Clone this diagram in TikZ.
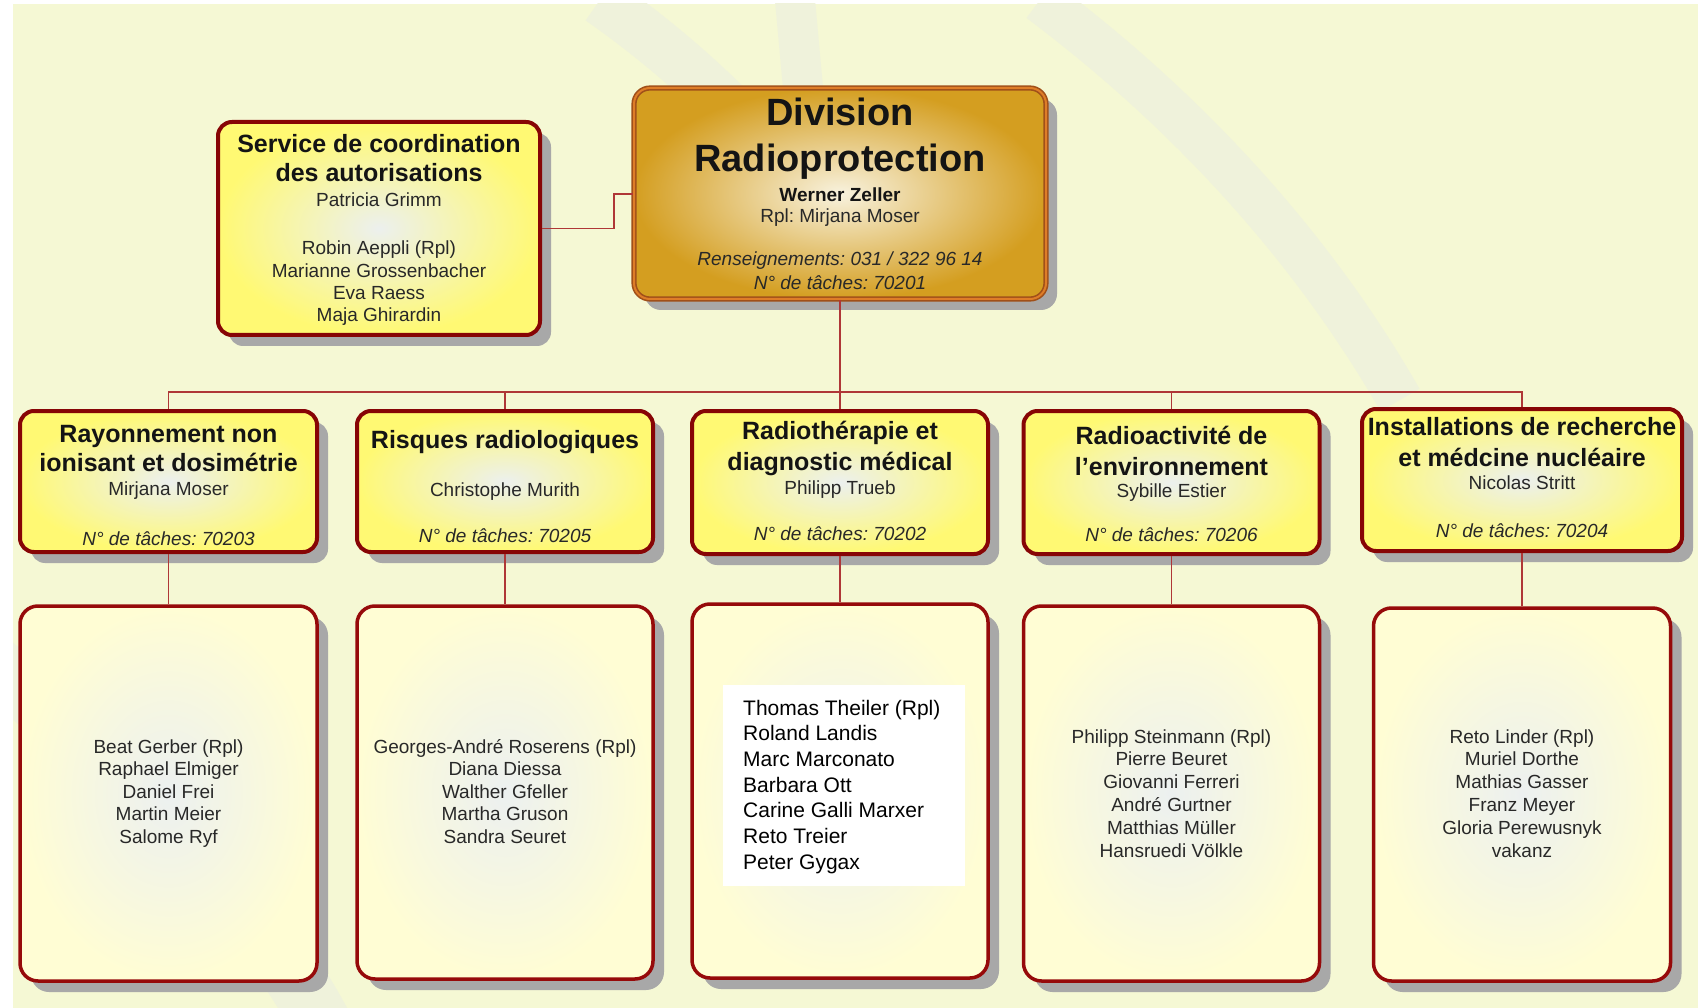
\documentclass[tikz,border=0pt]{standalone}
\usepackage{fontspec}
\setmainfont{Liberation Sans}
\usetikzlibrary{shadows}
\frenchspacing
\definecolor{bg}{RGB}{245,248,212}
\definecolor{swoosh}{RGB}{239,242,219}
\definecolor{conn}{RGB}{175,55,55}
\definecolor{bord}{RGB}{135,5,5}
\definecolor{lbord}{RGB}{150,10,10}
\definecolor{shad}{RGB}{168,168,168}
\definecolor{ylw}{RGB}{255,249,115}
\definecolor{ylwc}{RGB}{236,240,238}
\definecolor{pale}{RGB}{255,253,212}
\definecolor{palec}{RGB}{236,240,240}
\definecolor{gold}{RGB}{212,158,32}
\definecolor{goldc}{RGB}{248,242,222}
\definecolor{goldb}{RGB}{160,80,25}
\definecolor{goldm}{RGB}{222,125,40}
\definecolor{txt}{RGB}{20,20,20}
\definecolor{ntxt}{RGB}{40,40,40}
\begin{document}
\begin{tikzpicture}[x=1pt,y=-1pt,
  shadowed/.style={drop shadow={shadow xshift=11pt,shadow yshift=-11pt,fill=shad,opacity=1}},
  midbox/.style={rectangle,inner sep=0pt,rounded corners=14pt,line width=4pt,draw=bord,
     inner color=ylwc,outer color=ylw,shadowed},
  lowbox/.style={rectangle,inner sep=0pt,rounded corners=18pt,line width=3.5pt,draw=lbord,
     inner color=palec,outer color=pale,shadowed},
  topbox/.style={rectangle,inner sep=0pt,rounded corners=16pt,draw=goldb,line width=1.6pt,
     double=goldm,double distance=2pt,inner color=goldc,outer color=gold,shadowed},
  connline/.style={draw=conn,line width=1.6pt},
  ttl/.style={font=\fontsize{25}{30}\selectfont\bfseries,text=txt,inner sep=0pt,anchor=base},
  big/.style={font=\fontsize{38}{44}\selectfont\bfseries,text=txt,inner sep=0pt,anchor=base},
  bnm/.style={font=\fontsize{19}{22}\selectfont\bfseries,text=txt,inner sep=0pt,anchor=base},
  nm/.style={font=\fontsize{19}{22}\selectfont,text=ntxt,inner sep=0pt,anchor=base},
  itl/.style={font=\fontsize{19}{22}\selectfont\itshape,text=ntxt,inner sep=0pt,anchor=base},
  blk/.style={font=\fontsize{21}{25}\selectfont,text=black,inner sep=0pt,anchor=base west}
]
\useasboundingbox (0,0) rectangle (1698,1008);
\fill[white] (0,0) rectangle (1698,1008);
\fill[bg] (13,4) rectangle (1698,1008);
\begin{scope}
\clip (13,4) rectangle (1698,1008);
\draw[swoosh,line width=50pt] (600,0) .. controls (700,70) and (790,160) .. (870,280);
\draw[swoosh,line width=40pt] (795,0) -- (805,110);
\draw[swoosh,line width=45pt] (1040,0) .. controls (1200,120) and (1320,260) .. (1400,400);
\draw[swoosh,line width=60pt] (-40,640) .. controls (120,760) and (260,900) .. (330,1040);
\end{scope}

% boxes
\node[topbox,minimum width=412pt,minimum height=211pt] (top) at (840,193.5) {};
\node[midbox,minimum width=322pt,minimum height=213pt] (svc) at (379,228.5) {};

\node[midbox,minimum width=297pt,minimum height=141pt] (m1) at (168.5,481.5) {};
\node[midbox,minimum width=296pt,minimum height=141pt] (m2) at (505,481.5) {};
\node[midbox,minimum width=296pt,minimum height=143pt] (m3) at (840,482.5) {};
\node[midbox,minimum width=296pt,minimum height=143pt] (m4) at (1171.5,482.5) {};
\node[midbox,minimum width=320pt,minimum height=142pt] (m5) at (1522,480) {};

\node[lowbox,minimum width=297pt,minimum height=375pt] (l1) at (168.5,793.5) {};
\node[lowbox,minimum width=296pt,minimum height=373pt] (l2) at (505,792.5) {};
\node[lowbox,minimum width=296pt,minimum height=374pt] (l3) at (840,791) {};
\node[lowbox,minimum width=296pt,minimum height=375pt] (l4) at (1171.5,793.5) {};
\node[lowbox,minimum width=297pt,minimum height=373pt] (l5) at (1522,794.5) {};

% connectors
\coordinate (j1) at (614,194);
\coordinate (bus) at (840,392);
\draw[connline] (svc.east) -| (j1) -- (j1 -| top.west);
\draw[connline] (top.south) -- (m3.north);
\draw[connline] (m1.north) |- (bus) -| (m5.north);
\draw[connline] (m2.north) -- (m2.north |- bus);
\draw[connline] (m4.north) -- (m4.north |- bus);
\foreach \i in {1,...,5} \draw[connline] (m\i.south) -- (l\i.north);

% top box text
\node[big] (tA) at (840,126) {Division};
\node[big] (tB) at (840,172) {Radioprotection};
\node[bnm] (tC) at (840,202) {Werner Zeller};
\node[nm] (tD) at (840,223) {Rpl: Mirjana Moser};
\node[itl] (tE) at (840,266) {Renseignements: 031 / 322 96 14};
\node[itl] (tF) at (840,290) {N° de tâches: 70201};

% service box text
\node[ttl] (sA) at (379,153) {Service de coordination};
\node[ttl] (sB) at (379,182) {des autorisations};
\node[nm] (sC) at (379,207) {Patricia Grimm};
\foreach \t [count=\k from 0] in {Robin Aeppli (Rpl),Marianne Grossenbacher,Eva Raess,Maja Ghirardin}
  \node[nm] (s\k) at (379,{255+\k*22.3}) {\t};

% middle row text
\node[ttl] (a1) at (168.5,442) {Rayonnement non};
\node[ttl] (a2) at (168.5,471) {ionisant et dosimétrie};
\node[nm] (a3) at (168.5,495) {Mirjana Moser};
\node[itl] (a4) at (168.5,545) {N° de tâches: 70203};

\node[ttl] (b1) at (505,448) {Risques radiologiques};
\node[nm] (b3) at (505,496) {Christophe Murith};
\node[itl] (b4) at (505,542) {N° de tâches: 70205};

\node[ttl] (c1) at (840,439) {Radiothérapie et};
\node[ttl] (c2) at (840,470) {diagnostic médical};
\node[nm] (c3) at (840,494) {Philipp Trueb};
\node[itl] (c4) at (840,540) {N° de tâches: 70202};

\node[ttl] (d1) at (1171.5,444) {Radioactivité de};
\node[ttl] (d2) at (1171.5,475) {l’environnement};
\node[nm] (d3) at (1171.5,497) {Sybille Estier};
\node[itl] (d4) at (1171.5,541) {N° de tâches: 70206};

\node[ttl] (e1) at (1522,435) {Installations de recherche};
\node[ttl] (e2) at (1522,466) {et médcine nucléaire};
\node[nm] (e3) at (1522,489) {Nicolas Stritt};
\node[itl] (e4) at (1522,537) {N° de tâches: 70204};

% lower row text
\foreach \t [count=\k from 0] in {Beat Gerber (Rpl),Raphael Elmiger,Daniel Frei,Martin Meier,Salome Ryf}
  \node[nm] (p\k) at (168.5,{753+\k*22.5}) {\t};
\foreach \t [count=\k from 0] in {Georges-André Roserens (Rpl),Diana Diessa,Walther Gfeller,Martha Gruson,Sandra Seuret}
  \node[nm] (q\k) at (505,{753+\k*22.5}) {\t};
\node[fill=white,inner sep=0pt,minimum width=242pt,minimum height=201pt] (w3) at (844,785.5) {};
\foreach \t [count=\k from 0] in {Thomas Theiler (Rpl),Roland Landis,Marc Marconato,Barbara Ott,Carine Galli Marxer,Reto Treier,Peter Gygax}
  \node[blk] (r\k) at (743,{715+\k*25.7}) {\t};
\foreach \t [count=\k from 0] in {Philipp Steinmann (Rpl),Pierre Beuret,Giovanni Ferreri,André Gurtner,Matthias Müller,Hansruedi Völkle}
  \node[nm] (u\k) at (1171.5,{743+\k*22.8}) {\t};
\foreach \t [count=\k from 0] in {Reto Linder (Rpl),Muriel Dorthe,Mathias Gasser,Franz Meyer,Gloria Perewusnyk,vakanz}
  \node[nm] (v\k) at (1522,{743+\k*22.8}) {\t};
\end{tikzpicture}
\end{document}
